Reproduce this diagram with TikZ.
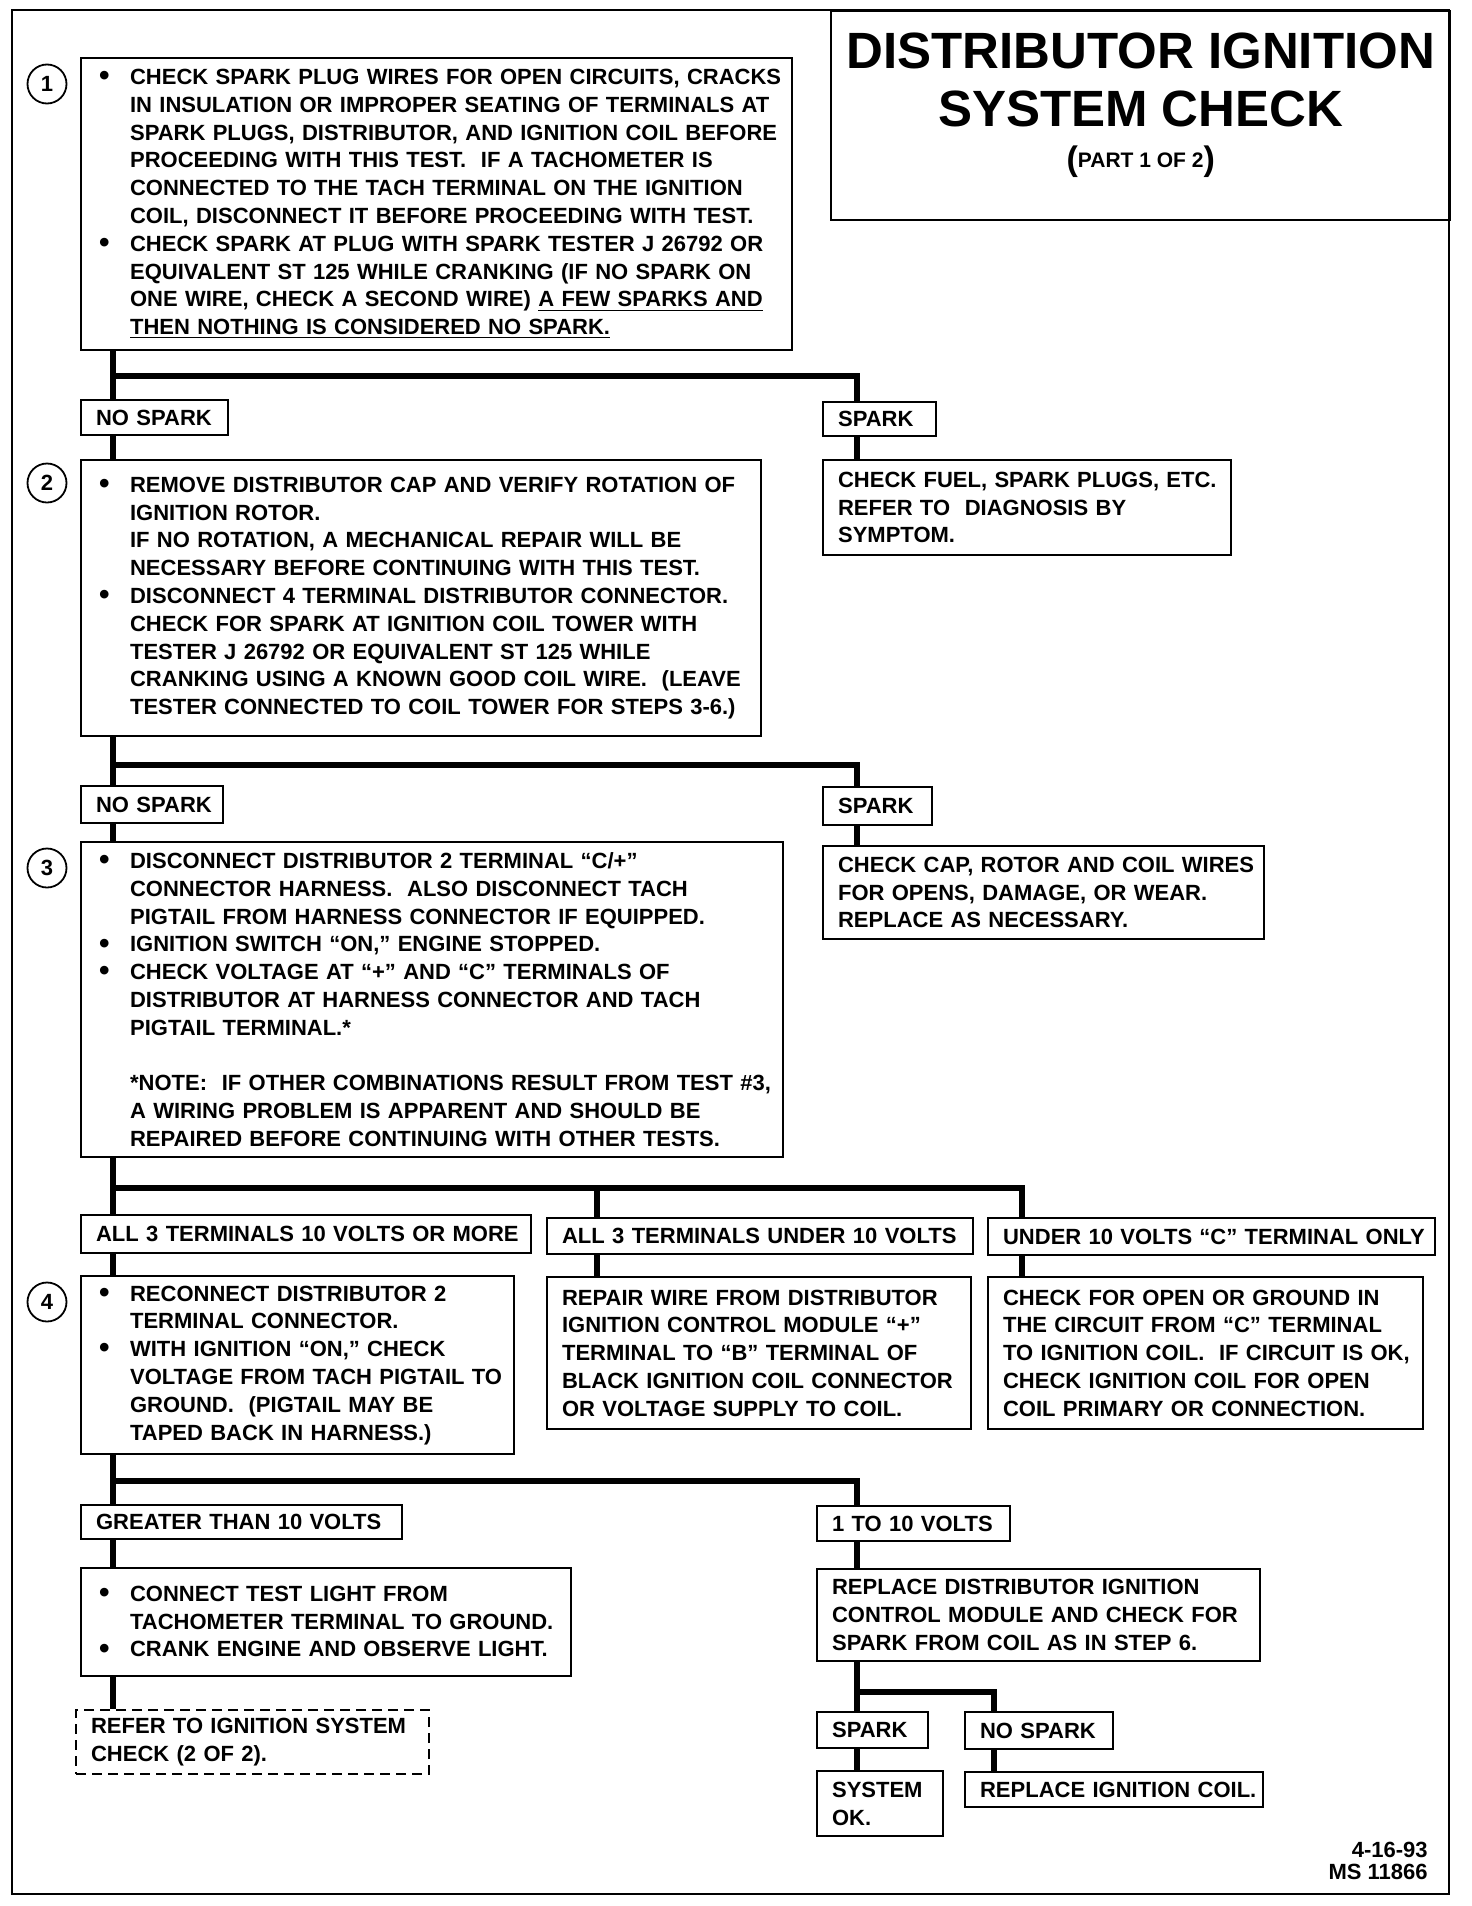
\documentclass[tikz,border=0pt]{standalone}
\usepackage{fontspec}
\setmainfont{Liberation Sans}
\usetikzlibrary{calc}

\newcommand{\bul}{\hspace*{5pt}\makebox[15.5pt][l]{\raisebox{-0.6pt}{\fontsize{15}{15}\selectfont\textbullet}}}
\newcommand{\ind}{\hspace*{20.5pt}}

\tikzset{
  txt/.style={font=\fontsize{11}{13.9}\selectfont\bfseries},
  box/.style={txt,draw,line width=1.1pt,anchor=north west,align=left,
    inner xsep=7.5pt,inner ysep=1pt,
    execute at begin node={\rightskip=-40pt plus 1fil}},
  bulbox/.style={box,inner xsep=4pt},
  refbox/.style={box,dash pattern=on 5pt off 3pt},
  link/.style={line width=3.2pt},
  stepno/.style={circle,draw,line width=0.9pt,minimum size=19.5pt,inner sep=0pt,
    font=\fontsize{11}{12}\selectfont\bfseries},
  titlebox/.style={draw,line width=1.2pt,anchor=north west,minimum width=309.5pt,
    minimum height=104.5pt,inner sep=0pt},
  titletxt/.style={font=\fontsize{25.5}{29}\selectfont\bfseries}
}

\begin{document}
\begin{tikzpicture}[x=0.5pt,y=-0.5pt]
  \useasboundingbox (0,0) rectangle (1472,1906);
  \draw[line width=1.2pt] (12,10) rectangle (1449,1894);

  % title
  \node[titlebox] (title) at (830,10) {};
  \node[titletxt] (t1) at ($(title.north)+(0,41)$) {DISTRIBUTOR IGNITION};
  \node[titletxt] (t2) at ($(title.north)+(0,99)$) {SYSTEM CHECK};
  \node[font=\bfseries] (t3) at ($(title.north)+(0,152)$)
    {\fontsize{17}{20}\selectfont(\raisebox{1.6pt}{\fontsize{10.5}{12}\selectfont PART 1 OF 2})};

  % columns of the connectors
  \coordinate (main) at (113,0);
  \coordinate (right) at (857,0);
  \coordinate (midB) at (597,0);
  \coordinate (colC) at (1022,0);
  \coordinate (colN) at (994,0);

  % step 1
  \node[stepno] (n1) at (47,84) {1};
  \node[bulbox,text width=347.5pt,minimum height=146pt] (box1) at (80,57)
    {\bul CHECK SPARK PLUG WIRES FOR OPEN CIRCUITS, CRACKS\\
     \ind IN INSULATION OR IMPROPER SEATING OF TERMINALS AT\\
     \ind SPARK PLUGS, DISTRIBUTOR, AND IGNITION COIL BEFORE\\
     \ind PROCEEDING WITH THIS TEST.~ IF A TACHOMETER IS\\
     \ind CONNECTED TO THE TACH TERMINAL ON THE IGNITION\\
     \ind COIL, DISCONNECT IT BEFORE PROCEEDING WITH TEST.\\
     \bul CHECK SPARK AT PLUG WITH SPARK TESTER J 26792 OR\\
     \ind EQUIVALENT ST 125 WHILE CRANKING (IF NO SPARK ON\\
     \ind ONE WIRE, CHECK A SECOND WIRE) \underline{A FEW SPARKS AND}\\
     \ind \underline{THEN NOTHING IS CONSIDERED NO SPARK.}};
  \node[box,text width=58.5pt,minimum height=17.5pt] (nosp1) at (80,399) {NO SPARK};
  \node[box,text width=41.5pt,minimum height=17pt] (spk1) at (822,401) {SPARK};
  \node[box,text width=189pt,minimum height=47.5pt] (res1) at (822,459)
    {CHECK FUEL, SPARK PLUGS, ETC.\\
     REFER TO~ DIAGNOSIS BY\\
     SYMPTOM.};

  % step 2
  \node[stepno] (n2) at (47,483) {2};
  \node[bulbox,text width=332pt,minimum height=138pt] (box2) at (80,459)
    {\bul REMOVE DISTRIBUTOR CAP AND VERIFY ROTATION OF\\
     \ind IGNITION ROTOR.\\
     \ind IF NO ROTATION, A MECHANICAL REPAIR WILL BE\\
     \ind NECESSARY BEFORE CONTINUING WITH THIS TEST.\\
     \bul DISCONNECT 4 TERMINAL DISTRIBUTOR CONNECTOR.\\
     \ind CHECK FOR SPARK AT IGNITION COIL TOWER WITH\\
     \ind TESTER J 26792 OR EQUIVALENT ST 125 WHILE\\
     \ind CRANKING USING A KNOWN GOOD COIL WIRE.~ (LEAVE\\
     \ind TESTER CONNECTED TO COIL TOWER FOR STEPS 3-6.)};
  \node[box,text width=56pt,minimum height=18.5pt] (nosp2) at (80,785) {NO SPARK};
  \node[box,text width=39.5pt,minimum height=19pt] (spk2) at (822,786) {SPARK};
  \node[box,text width=205.5pt,minimum height=46.5pt] (res2) at (822,845)
    {CHECK CAP, ROTOR AND COIL WIRES\\
     FOR OPENS, DAMAGE, OR WEAR.\\
     REPLACE AS NECESSARY.};

  % step 3
  \node[stepno] (n3) at (47,868) {3};
  \node[bulbox,text width=343pt,minimum height=157.5pt] (box3) at (80,841)
    {\bul DISCONNECT DISTRIBUTOR 2 TERMINAL “C/+”\\
     \ind CONNECTOR HARNESS.~ ALSO DISCONNECT TACH\\
     \ind PIGTAIL FROM HARNESS CONNECTOR IF EQUIPPED.\\
     \bul IGNITION SWITCH “ON,” ENGINE STOPPED.\\
     \bul CHECK VOLTAGE AT “+” AND “C” TERMINALS OF\\
     \ind DISTRIBUTOR AT HARNESS CONNECTOR AND TACH\\
     \ind PIGTAIL TERMINAL.*\\[13.9pt]
     \ind *NOTE:~ IF OTHER COMBINATIONS RESULT FROM TEST \#3,\\
     \ind A WIRING PROBLEM IS APPARENT AND SHOULD BE\\
     \ind REPAIRED BEFORE CONTINUING WITH OTHER TESTS.};
  \node[box,text width=210pt,minimum height=19pt] (labA) at (80,1214)
    {ALL 3 TERMINALS 10 VOLTS OR MORE};
  \node[box,text width=198pt,minimum height=18pt] (labB) at (546,1217)
    {ALL 3 TERMINALS UNDER 10 VOLTS};
  \node[box,text width=208.5pt,minimum height=18.5pt] (labC) at (987,1217)
    {UNDER 10 VOLTS “C” TERMINAL ONLY};

  % step 4
  \node[stepno] (n4) at (47,1302) {4};
  \node[bulbox,text width=208.5pt,minimum height=89pt] (box4) at (80,1275)
    {\bul RECONNECT DISTRIBUTOR 2\\
     \ind TERMINAL CONNECTOR.\\
     \bul WITH IGNITION “ON,” CHECK\\
     \ind VOLTAGE FROM TACH PIGTAIL TO\\
     \ind GROUND.~ (PIGTAIL MAY BE\\
     \ind TAPED BACK IN HARNESS.)};
  \node[box,text width=197pt,minimum height=76pt] (boxB) at (546,1276)
    {REPAIR WIRE FROM DISTRIBUTOR\\
     IGNITION CONTROL MODULE “+”\\
     TERMINAL TO “B” TERMINAL OF\\
     BLACK IGNITION COIL CONNECTOR\\
     OR VOLTAGE SUPPLY TO COIL.};
  \node[box,text width=202.5pt,minimum height=76pt] (boxC) at (987,1276)
    {CHECK FOR OPEN OR GROUND IN\\
     THE CIRCUIT FROM “C” TERMINAL\\
     TO IGNITION COIL.~ IF CIRCUIT IS OK,\\
     CHECK IGNITION COIL FOR OPEN\\
     COIL PRIMARY OR CONNECTION.};
  \node[box,text width=145.5pt,minimum height=17pt] (labG) at (80,1504)
    {GREATER THAN 10 VOLTS};
  \node[box,text width=81.5pt,minimum height=17.5pt] (lab110) at (816,1505)
    {1 TO 10 VOLTS};
  \node[bulbox,text width=237pt,minimum height=54pt] (boxG) at (80,1567)
    {\bul CONNECT TEST LIGHT FROM\\
     \ind TACHOMETER TERMINAL TO GROUND.\\
     \bul CRANK ENGINE AND OBSERVE LIGHT.};
  \node[box,text width=206.5pt,minimum height=46pt] (boxR) at (816,1568)
    {REPLACE DISTRIBUTOR IGNITION\\
     CONTROL MODULE AND CHECK FOR\\
     SPARK FROM COIL AS IN STEP 6.};
  \node[refbox,text width=161.5pt,minimum height=32pt] (refer) at (75,1709)
    {REFER TO IGNITION SYSTEM\\
     CHECK (2 OF 2).};
  \node[box,text width=40.5pt,minimum height=18pt] (spk3) at (816,1711) {SPARK};
  \node[box,text width=59pt,minimum height=18.5pt] (nosp3) at (964,1711) {NO SPARK};
  \node[box,text width=48pt,minimum height=32.5pt] (sysok) at (816,1770)
    {SYSTEM\\OK.};
  \node[box,text width=134pt,minimum height=17.5pt] (repl) at (964,1771)
    {REPLACE IGNITION COIL.};

  \node[font=\fontsize{11}{11}\selectfont\bfseries,align=right,anchor=north east,inner sep=0pt]
    (date) at (1428,1842) {4-16-93\\MS 11866};

  % connectors
  \draw[link] (box1.south -| main) -- (nosp1.north -| main);
  \draw[link] (box1.south -| main) -- ++(0,25) -| (spk1.north -| right);
  \draw[link] (spk1.south -| right) -- (res1.north -| right);
  \draw[link] (nosp1.south -| main) -- (box2.north -| main);
  \draw[link] (box2.south -| main) -- (nosp2.north -| main);
  \draw[link] (box2.south -| main) -- ++(0,28) -| (spk2.north -| right);
  \draw[link] (spk2.south -| right) -- (res2.north -| right);
  \draw[link] (nosp2.south -| main) -- (box3.north -| main);
  \draw[link] (box3.south -| main) -- (labA.north -| main);
  \draw[link] (box3.south -| main) -- ++(0,30) coordinate (br3) -| (labC.north -| colC);
  \draw[link] (br3 -| midB) -- (labB.north -| midB);
  \draw[link] (labA.south -| main) -- (box4.north -| main);
  \draw[link] (labB.south -| midB) -- (boxB.north -| midB);
  \draw[link] (labC.south -| colC) -- (boxC.north -| colC);
  \draw[link] (box4.south -| main) -- (labG.north -| main);
  \draw[link] (box4.south -| main) -- ++(0,26) -| (lab110.north -| right);
  \draw[link] (labG.south -| main) -- (boxG.north -| main);
  \draw[link] (lab110.south -| right) -- (boxR.north -| right);
  \draw[link] (boxG.south -| main) -- (refer.north -| main);
  \draw[link] (boxR.south -| right) -- (spk3.north -| right);
  \draw[link] (boxR.south -| right) -- ++(0,30) -| (nosp3.north -| colN);
  \draw[link] (spk3.south -| right) -- (sysok.north -| right);
  \draw[link] (nosp3.south -| colN) -- (repl.north -| colN);
\end{tikzpicture}
\end{document}
